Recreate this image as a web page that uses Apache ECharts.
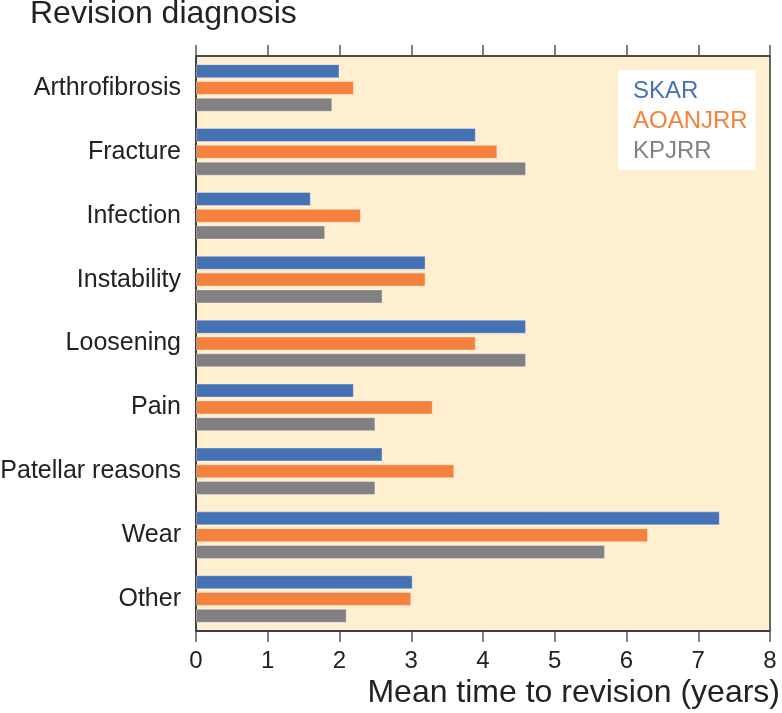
<!DOCTYPE html>
<html>
<head>
<meta charset="utf-8">
<script src="https://cdn.jsdelivr.net/npm/echarts@6/dist/echarts.min.js"></script>
<style>
html,body{margin:0;padding:0;background:#fff;}
#chart{width:782px;height:713px;}
</style>
</head>
<body>
<div id="chart"></div>
<script>
var categories = ['Arthrofibrosis','Fracture','Infection','Instability','Loosening','Pain','Patellar reasons','Wear','Other'];
var seriesNames = ['SKAR','AOANJRR','KPJRR'];
var skar    = [2.0, 3.9, 1.6, 3.2, 4.6, 2.2, 2.6, 7.3, 3.02];
var aoanjrr = [2.2, 4.2, 2.3, 3.2, 3.9, 3.3, 3.6, 6.3, 3.0];
var kpjrr   = [1.9, 4.6, 1.8, 2.6, 4.6, 2.5, 2.5, 5.7, 2.1];
var xTicks  = [0, 8, 1]; // min, max, interval
var colors  = ['#4472b5', '#f5823c', '#818184'];

var FONT = '"Liberation Sans", Arial, Helvetica, sans-serif';
var chart = echarts.init(document.getElementById('chart'), null, {renderer:'canvas'});
var values = [skar, aoanjrr, kpjrr];

var option = {
  animation: false,
  textStyle: {fontFamily: FONT},
  grid: {
    left: 196, right: 12, top: 56, bottom: 82,
    show: true, backgroundColor: '#feefd1', borderColor: '#333', borderWidth: 1.5,
    containLabel: false,
    outerBoundsMode: 'none'
  },
  legend: {
    orient: 'vertical',
    left: 618, top: 70,
    backgroundColor: '#ffffff',
    padding: [8, 8, 5, 10],
    itemGap: 3,
    itemWidth: 0,
    itemHeight: 27,
    selectedMode: false,
    data: seriesNames.map(function(n, i){
      return {name: n, icon: 'none', textStyle: {color: colors[i], fontSize: 24, lineHeight: 27, fontFamily: FONT}};
    })
  },
  xAxis: [{
    type: 'value', position: 'bottom',
    min: xTicks[0], max: xTicks[1], interval: xTicks[2],
    splitLine: {show: false},
    axisLine: {show: true, lineStyle: {color: '#333', width: 1.5}},
    axisTick: {show: true, inside: false, length: 11, lineStyle: {color: '#555', width: 1.5}},
    axisLabel: {fontSize: 24, color: '#222', margin: 18, fontFamily: FONT}
  }, {
    type: 'value', position: 'top',
    min: xTicks[0], max: xTicks[1], interval: xTicks[2],
    splitLine: {show: false},
    axisLine: {show: true, lineStyle: {color: '#444', width: 1.5}},
    axisTick: {show: true, inside: false, length: 11, lineStyle: {color: '#555', width: 1.5}},
    axisLabel: {show: false}
  }],
  yAxis: {
    type: 'category', data: categories, inverse: true,
    axisLine: {show: true, lineStyle: {color: '#333', width: 1.5}},
    axisTick: {show: false},
    axisLabel: {fontSize: 25, color: '#222', margin: 15, fontFamily: FONT},
    splitLine: {show: false}
  },
  series: seriesNames.map(function(n, i){
    return {
      name: n, type: 'bar', data: values[i],
      barWidth: 14, barGap: '20%',
      itemStyle: {color: colors[i], borderColor: 'rgba(255,255,255,0.35)', borderWidth: 1}
    };
  }),
  graphic: [
    {type: 'text', left: 30, top: -2, style: {text: 'Revision diagnosis', font: '32px ' + FONT, fill: '#222'}},
    {type: 'text', right: 2, top: 677, style: {text: 'Mean time to revision (years)', font: '32px ' + FONT, fill: '#222'}}
  ]
};
chart.setOption(option);
</script>
</body>
</html>
